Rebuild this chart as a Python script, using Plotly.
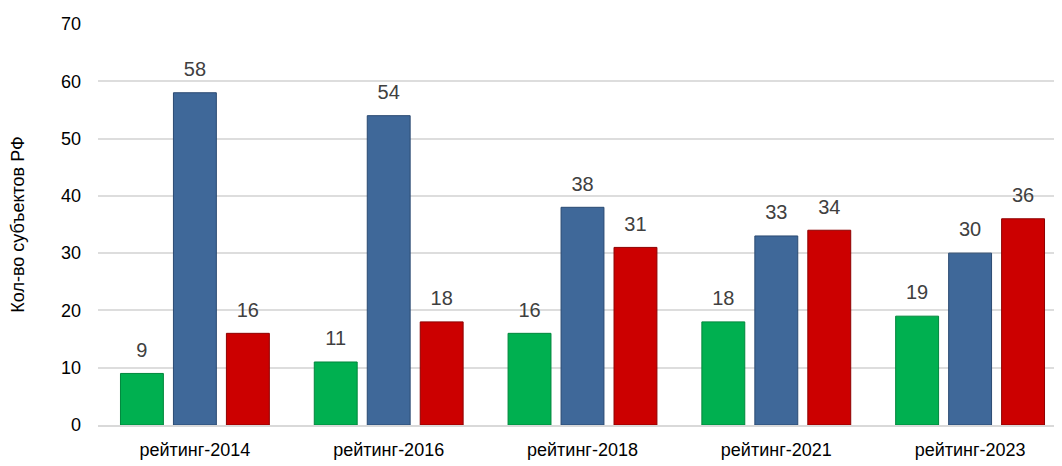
import plotly.graph_objects as go

categories = ["рейтинг-2014", "рейтинг-2016", "рейтинг-2018", "рейтинг-2021", "рейтинг-2023"]
green_values = [9, 11, 16, 18, 19]
blue_values = [58, 54, 38, 33, 30]
red_values = [16, 18, 31, 34, 36]
y_ticks = [0, 10, 20, 30, 40, 50, 60, 70]

series = [
    ("green", green_values, "#00B050", "#00873C"),
    ("blue", blue_values, "#3F6899", "#2A4A72"),
    ("red", red_values, "#CC0000", "#8E0000"),
]

FONT = "Liberation Sans, Arial, sans-serif"

fig = go.Figure()

for name, values, color, edge in series:
    fig.add_trace(
        go.Bar(
            x=categories,
            y=values,
            name=name,
            marker=dict(color=color, line=dict(color=edge, width=1)),
            text=values,
            # small base font + empty second line = a few px of extra lift
            texttemplate="<span style='font-size:20px'>%{text}</span><br> ",
            textposition="outside",
            textfont=dict(size=9, color="#404040", family=FONT),
            constraintext="none",
            cliponaxis=False,
        )
    )

# page body adds an 8px offset, margins below account for it
fig.update_layout(
    width=1062,
    height=466,
    margin=dict(l=90, r=3, t=16, b=49),
    paper_bgcolor="white",
    plot_bgcolor="white",
    showlegend=False,
    barmode="group",
    bargap=0.18,
    bargroupgap=0.19,
    font=dict(family=FONT, color="#000000"),
    xaxis=dict(
        showgrid=False,
        showline=True,
        linecolor="#D9D9D9",
        linewidth=2,
        tickfont=dict(size=18),
        ticks="",
        ticklabelstandoff=7,
    ),
    yaxis=dict(
        range=[0, 70],
        tickvals=y_ticks,
        gridcolor="#DDDDDD",
        gridwidth=2,
        zeroline=False,
        tickfont=dict(size=18),
        ticks="",
        ticklabelstandoff=16,
        title=dict(text="Кол-во субъектов РФ", font=dict(size=18), standoff=34),
    ),
)

fig.write_html("out.html")
